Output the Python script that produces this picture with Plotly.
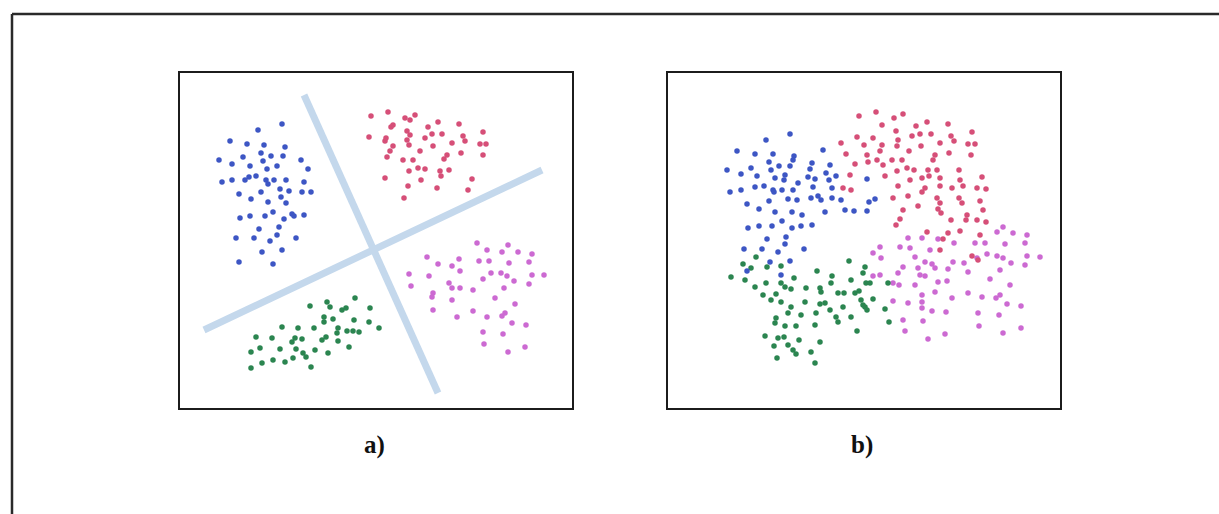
import plotly.graph_objects as go

# ---------------- Panel a) : four well-separated clusters ----------------
a_blue_x = [282,258,230,247,264,285,261,243,271,283,219,232,263,301,250,277,267,308,249,256,
            222,232,245,266,274,286,268,304,280,239,261,289,302,311,281,251,268,286,273,292,
            240,250,265,284,294,304,259,279,277,236,254,270,296,262,282,239,273]
a_blue_y = [124,130,141,144,145,147,153,157,156,156,160,164,161,160,166,166,169,169,177,176,
            182,180,180,180,180,180,184,182,189,194,192,191,192,192,197,199,202,203,212,214,
            218,216,216,219,216,215,229,227,235,238,238,241,238,252,250,262,264]

a_green_x = [355,310,327,330,342,346,370,324,324,333,354,369,379,282,298,314,338,337,347,353,
             359,256,272,295,302,326,322,292,338,260,251,280,296,303,315,328,349,306,293,285,
             273,262,251,311]
a_green_y = [298,306,302,307,310,308,308,317,322,319,320,322,328,327,328,328,328,333,331,331,
             332,337,338,338,339,337,340,342,341,348,352,349,349,353,350,353,347,357,358,362,
             360,363,368,367]

a_red_x = [388,371,369,405,410,415,393,391,438,459,428,407,410,432,442,425,483,463,465,386,
           385,407,409,480,486,452,433,393,390,420,461,483,387,447,444,403,413,418,425,409,
           440,449,441,385,421,472,408,437,468,404]
a_red_y = [112,116,137,118,120,115,125,127,122,124,127,131,135,134,134,138,132,136,141,138,
           141,140,145,144,144,143,146,146,151,151,153,155,157,155,159,160,160,168,169,171,
           171,170,176,178,180,179,186,188,190,198]

a_mag_x = [477,508,487,502,518,532,427,459,479,489,529,438,452,509,460,409,429,491,501,507,
           532,544,483,514,529,411,449,452,460,473,504,433,432,495,452,515,433,473,487,457,
           502,505,512,526,483,503,484,525,508]
a_mag_y = [243,245,250,252,252,254,257,259,261,261,262,264,266,263,271,274,276,273,273,276,
           275,275,279,281,284,286,283,288,288,290,288,293,297,298,300,304,310,311,317,317,
           316,313,323,325,332,334,344,347,352]

# separating lines of panel a) (end points)
a_line1_x = [304, 438]
a_line1_y = [95, 393]
a_line2_x = [204, 542]
a_line2_y = [330, 170]

# ---------------- Panel b) : four overlapping clusters ----------------
b_blue = [(790,134),(766,140),(737,151),(755,154),(773,154),(794,156),(823,150),(793,160),(769,162),
          (779,166),(812,163),(830,165),(727,170),(751,168),(771,170),(790,166),(810,169),(741,174),
          (757,176),(775,178),(785,175),(784,180),(808,177),(815,179),(826,173),(836,176),(829,180),
          (755,187),(764,186),(773,190),(782,190),(793,190),(798,183),(813,187),(832,188),(730,192),
          (741,190),(774,192),(788,199),(797,200),(811,198),(818,196),(821,200),(832,198),(841,200),
          (769,201),(747,204),(759,209),(775,212),(792,212),(802,215),(825,212),(845,210),(854,211),
          (867,211),(782,221),(792,228),(801,226),(812,225),(772,226),(759,226),(748,228),(767,239),
          (786,237),(744,249),(762,249),(778,252),(785,244),(804,249),(770,262),(790,261),(747,271),
          (781,275),(867,179),(869,202),(875,199)]
b_blue_x = [p[0] for p in b_blue]
b_blue_y = [p[1] for p in b_blue]

b_red = [(859,116),(857,137),(841,143),(864,145),(846,154),(855,164),(850,175),(843,188),(851,190),
         (876,112),(894,118),(903,114),(927,122),(948,124),(882,125),(916,126),(896,131),(920,134),
         (931,134),(972,132),(912,136),(873,138),(898,140),(951,136),(954,141),(882,145),(897,146),
         (921,146),(940,143),(968,144),(975,144),(867,155),(880,151),(909,151),(949,153),(971,155),
         (935,155),(933,160),(877,160),(892,160),(902,160),(883,165),(868,162),(907,168),(914,170),
         (897,171),(928,170),(937,170),(959,170),(885,176),(929,176),(940,178),(910,180),(922,178),
         (960,180),(982,177),(898,186),(925,188),(922,192),(940,186),(952,188),(963,186),(977,188),
         (986,189),(893,198),(908,196),(937,198),(940,203),(959,198),(980,201),(903,210),(918,206),
         (938,209),(941,213),(962,203),(967,215),(983,210),(900,219),(951,220),(966,220),(977,220),
         (986,222),(896,225),(927,232),(948,233),(960,231),(980,235),(943,239),(940,250),(972,256),
         (978,260)]
b_red_x = [p[0] for p in b_red]
b_red_y = [p[1] for p in b_red]

b_green = [(849,261),(865,267),(756,257),(743,264),(751,268),(767,267),(781,266),(731,277),(745,280),
           (766,283),(794,278),(817,271),(832,276),(831,283),(851,280),(866,283),(755,287),(781,283),
           (785,287),(791,289),(806,288),(820,288),(821,292),(838,293),(844,293),(855,293),(859,291),
           (763,295),(776,294),(771,300),(781,302),(805,302),(820,304),(825,303),(843,307),(861,300),
           (865,307),(791,307),(788,313),(801,315),(816,313),(830,310),(836,317),(851,317),(776,318),
           (775,323),(785,326),(796,326),(815,325),(838,322),(857,331),(765,336),(778,338),(784,337),
           (799,340),(820,342),(774,346),(788,345),(793,350),(796,354),(811,352),(777,358),(815,363),
           (863,273),(870,283),(888,283),(873,299),(885,309),(889,322),(867,310),(863,305)]
b_green_x = [p[0] for p in b_green]
b_green_y = [p[1] for p in b_green]

b_mag = [(1003,227),(1013,233),(1027,235),(997,232),(908,238),(922,238),(938,239),
         (880,247),(900,247),(910,248),(930,250),(954,243),(975,243),(985,243),(1005,244),(1025,243),
         (873,253),(881,258),(915,257),(925,262),(932,264),(953,262),(964,263),(977,258),(987,254),
         (997,256),(1003,258),(1011,263),(1025,265),(1027,256),(1040,257),(903,267),(918,268),
         (935,268),(948,269),(968,272),(1000,270),(898,273),(920,275),(925,276),(873,276),(880,275),
         (938,282),(947,281),(990,279),(893,283),(899,285),(915,285),(1010,285),(935,292),(968,293),
         (922,295),(952,298),(982,297),(996,298),(1000,295),(893,301),(908,303),(922,302),(1007,304),
         (1021,306),(922,308),(932,311),(946,312),(978,313),(999,315),(903,320),(923,321),(979,326),
         (1003,333),(1021,328),(905,331),(945,334),(928,339)]
b_mag_x = [p[0] for p in b_mag]
b_mag_y = [p[1] for p in b_mag]

panel_labels = ["a)", "b)"]

# ---------------- styling ----------------
BLUE = "#3d56c4"
RED = "#d64f78"
GREEN = "#2b8550"
MAG = "#cc6ad2"
LINE = "#c4d8ec"
MS = 5.5

W, H = 1219, 514

fig = go.Figure()

def pts(x, y, color, xa, ya):
    return go.Scatter(x=x, y=y, mode="markers", xaxis=xa, yaxis=ya,
                      marker=dict(size=MS, color=color, line=dict(width=0)),
                      hoverinfo="skip", showlegend=False)

# panel a
fig.add_trace(go.Scatter(x=a_line1_x, y=a_line1_y, mode="lines", xaxis="x", yaxis="y",
                         line=dict(color=LINE, width=7), showlegend=False, hoverinfo="skip"))
fig.add_trace(go.Scatter(x=a_line2_x, y=a_line2_y, mode="lines", xaxis="x", yaxis="y",
                         line=dict(color=LINE, width=7), showlegend=False, hoverinfo="skip"))
fig.add_trace(pts(a_blue_x, a_blue_y, BLUE, "x", "y"))
fig.add_trace(pts(a_red_x, a_red_y, RED, "x", "y"))
fig.add_trace(pts(a_green_x, a_green_y, GREEN, "x", "y"))
fig.add_trace(pts(a_mag_x, a_mag_y, MAG, "x", "y"))

# panel b
fig.add_trace(pts(b_mag_x, b_mag_y, MAG, "x2", "y2"))
fig.add_trace(pts(b_green_x, b_green_y, GREEN, "x2", "y2"))
fig.add_trace(pts(b_red_x, b_red_y, RED, "x2", "y2"))
fig.add_trace(pts(b_blue_x, b_blue_y, BLUE, "x2", "y2"))

ax_common = dict(showgrid=False, zeroline=False, showticklabels=False, ticks="",
                 showline=True, mirror=True, linecolor="#1c1c1c", linewidth=2, fixedrange=True)

top, bottom = 73, 408
ydom = [1 - bottom / H, 1 - top / H]

fig.update_layout(
    width=W, height=H,
    margin=dict(l=0, r=0, t=0, b=0),
    paper_bgcolor="white", plot_bgcolor="white",
    xaxis=dict(domain=[180 / W, 572 / W], range=[180, 572], **ax_common),
    yaxis=dict(domain=ydom, range=[bottom, top], **ax_common),
    xaxis2=dict(domain=[668 / W, 1060 / W], range=[668, 1060], anchor="y2", **ax_common),
    yaxis2=dict(domain=ydom, range=[bottom, top], anchor="x2", **ax_common),
    showlegend=False,
)

# outer frame (top and left edges visible)
fig.add_shape(type="line", xref="paper", yref="paper", x0=12 / W, x1=1, y0=1 - 14 / H, y1=1 - 14 / H,
              line=dict(color="#2a2a2a", width=2.5))
fig.add_shape(type="line", xref="paper", yref="paper", x0=12 / W, x1=12 / W, y0=0, y1=1 - 14 / H,
              line=dict(color="#2a2a2a", width=2.5))

for lab, cx in zip(panel_labels, [374, 862]):
    fig.add_annotation(text="<b>" + lab + "</b>", xref="paper", yref="paper", x=cx / W, y=1 - 445 / H,
                       showarrow=False, xanchor="center", yanchor="middle",
                       font=dict(family="Liberation Serif", size=25, color="#111111"))

fig.write_html("out.html", config={"displayModeBar": False},
               post_script="document.body.style.margin='0';document.body.style.overflow='hidden';")
